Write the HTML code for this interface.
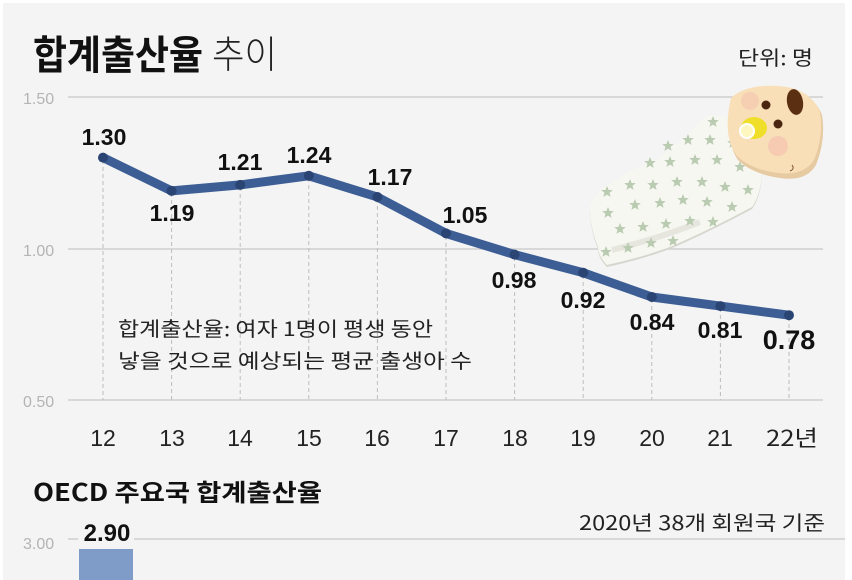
<!DOCTYPE html>
<html><head><meta charset="utf-8">
<style>
html,body{margin:0;padding:0;background:#fff;}
svg{display:block;}
text{font-family:"Liberation Sans","Noto Sans CJK KR",sans-serif;}
.k{font-family:"Noto Sans CJK KR","Liberation Sans",sans-serif;}
</style></head>
<body>
<svg width="852" height="580" viewBox="0 0 852 580" xmlns="http://www.w3.org/2000/svg">
<defs>
<path id="st" d="M0,-6 L1.6,-2 L5.8,-1.9 L2.5,0.8 L3.6,4.9 L0,2.6 L-3.6,4.9 L-2.5,0.8 L-5.8,-1.9 L-1.6,-2 Z" fill="#b9cbb0"/>
</defs>
<rect x="3" y="3" width="842" height="577" fill="#f4f4f4"/>

<!-- title -->
<text class="k" x="33" y="69" font-size="40" font-weight="700" fill="#111" textLength="170" lengthAdjust="spacingAndGlyphs">합계출산율</text>
<text class="k" x="212" y="68" font-size="38" font-weight="300" fill="#222" textLength="65" lengthAdjust="spacingAndGlyphs">추이</text>
<text class="k" x="738" y="65" font-size="20" fill="#222" textLength="75" lengthAdjust="spacingAndGlyphs">단위: 명</text>

<!-- gridlines -->
<g stroke="#cfcfcf" stroke-width="1.5">
<line x1="68" y1="97" x2="823" y2="97"/>
<line x1="68" y1="249" x2="823" y2="249"/>
<line x1="68" y1="400" x2="823" y2="400"/>
</g>
<g font-size="16" fill="#b4b4b4" font-weight="300">
<text x="23" y="104">1.50</text>
<text x="23" y="256">1.00</text>
<text x="23" y="407">0.50</text>
</g>

<!-- dashed verticals -->
<g stroke="#bdbdbd" stroke-width="1" stroke-dasharray="4,3">
<line x1="103" y1="160" x2="103" y2="400"/>
<line x1="171.6" y1="193" x2="171.6" y2="400"/>
<line x1="240.2" y1="187" x2="240.2" y2="400"/>
<line x1="308.8" y1="178" x2="308.8" y2="400"/>
<line x1="377.4" y1="199" x2="377.4" y2="400"/>
<line x1="446" y1="236" x2="446" y2="400"/>
<line x1="514.6" y1="257" x2="514.6" y2="400"/>
<line x1="583.2" y1="275" x2="583.2" y2="400"/>
<line x1="651.8" y1="299" x2="651.8" y2="400"/>
<line x1="720.4" y1="308" x2="720.4" y2="400"/>
<line x1="789" y1="317" x2="789" y2="400"/>
</g>

<!-- annotation -->
<text class="k" x="118" y="336" font-size="20" fill="#222" textLength="315" lengthAdjust="spacingAndGlyphs">합계출산율: 여자 1명이 평생 동안</text>
<text class="k" x="118" y="368" font-size="20" fill="#222" textLength="354" lengthAdjust="spacingAndGlyphs">낳을 것으로 예상되는 평균 출생아 수</text>

<!-- line -->
<polyline fill="none" stroke="#3d5e95" stroke-width="9" stroke-linejoin="round" stroke-linecap="round"
points="103,157.6 171.6,190.9 240.2,184.9 308.8,175.8 377.4,197 446,233.4 514.6,254.6 583.2,272.7 651.8,297 720.4,306.1 789,315.2"/>
<g fill="#2a4474">
<circle cx="103" cy="157.6" r="5"/><circle cx="171.6" cy="190.9" r="5"/><circle cx="240.2" cy="184.9" r="5"/>
<circle cx="308.8" cy="175.8" r="5"/><circle cx="377.4" cy="197" r="5"/><circle cx="446" cy="233.4" r="5"/>
<circle cx="514.6" cy="254.6" r="5"/><circle cx="583.2" cy="272.7" r="5"/><circle cx="651.8" cy="297" r="5"/>
<circle cx="720.4" cy="306.1" r="5"/><circle cx="789" cy="315.2" r="5"/>
</g>

<!-- baby -->
<g>
<path d="M708,117 L727,119 Q740,130 747,145 L762,169 Q762,195 752,209 L733,219 Q700,236 670,249 Q640,260 607,267 Q598,258 598,249 Q590,230 590,209 Q596,195 607,187 Q630,172 657,162 Q685,140 708,117 Z" fill="#d6d6cf"/>
<path d="M708,115 L727,117 Q740,128 747,143 L762,167 Q762,193 752,207 L733,217 Q700,234 670,247 Q640,258 607,265 Q598,256 598,247 Q590,228 590,207 Q596,193 607,185 Q630,170 657,160 Q685,138 708,115 Z" fill="#f7f7f1"/>
<path d="M612,250 Q660,238 700,222" stroke="#e6e6df" stroke-width="6" fill="none"/>
<g>
<use href="#st" x="713" y="122"/><use href="#st" x="710" y="140"/><use href="#st" x="688" y="140"/><use href="#st" x="668" y="146"/><use href="#st" x="733" y="143"/>
<use href="#st" x="650" y="163"/><use href="#st" x="670" y="162"/><use href="#st" x="695" y="160"/><use href="#st" x="717" y="160"/><use href="#st" x="740" y="167"/>
<use href="#st" x="630" y="185"/><use href="#st" x="653" y="185"/><use href="#st" x="677" y="182"/><use href="#st" x="702" y="182"/><use href="#st" x="725" y="187"/><use href="#st" x="748" y="190"/>
<use href="#st" x="607" y="192"/><use href="#st" x="635" y="205"/><use href="#st" x="660" y="203"/><use href="#st" x="683" y="200"/><use href="#st" x="707" y="202"/><use href="#st" x="732" y="207"/>
<use href="#st" x="608" y="213"/><use href="#st" x="620" y="229"/><use href="#st" x="643" y="227"/><use href="#st" x="666" y="224"/><use href="#st" x="690" y="221"/><use href="#st" x="713" y="222"/>
<use href="#st" x="628" y="248"/><use href="#st" x="651" y="243"/><use href="#st" x="673" y="241"/><use href="#st" x="606" y="252"/>
</g>
<!-- head -->
<path d="M733,100 Q748,86 780,88 Q812,90 822,115 Q826,140 816,165 Q806,182 780,178 Q752,174 738,160 Q724,140 733,100 Z" fill="#e6caa2"/>
<path d="M731,98 Q746,84 778,86 Q810,88 820,112 Q824,136 814,160 Q804,176 778,173 Q752,170 737,156 Q722,136 731,98 Z" fill="#f8dfb8"/>
<circle cx="750" cy="101" r="9" fill="#f5cbb0" opacity="0.8"/>
<circle cx="778" cy="146" r="10" fill="#f5c6b0" opacity="0.8"/>
<ellipse cx="795" cy="102" rx="8" ry="13" transform="rotate(-10 795 102)" fill="#5b2f12"/>
<circle cx="766" cy="105" r="4.5" fill="#4a2510"/>
<circle cx="778" cy="124" r="4.5" fill="#4a2510"/>
<ellipse cx="754" cy="128" rx="13" ry="11" fill="#f0df2a"/>
<circle cx="747" cy="131" r="7" fill="#fff7c0" stroke="#ffffff" stroke-width="2"/>
<path d="M792,165 q3,4 -2,6" stroke="#7a5030" stroke-width="1" fill="none"/>
</g>

<!-- value labels -->
<g font-size="23" font-weight="700" fill="#111" text-anchor="middle">
<text x="104" y="145">1.30</text>
<text x="172" y="221">1.19</text>
<text x="240" y="170">1.21</text>
<text x="309" y="163">1.24</text>
<text x="390" y="185">1.17</text>
<text x="465" y="223">1.05</text>
<text x="514" y="288">0.98</text>
<text x="583" y="308">0.92</text>
<text x="652" y="330">0.84</text>
<text x="720" y="338">0.81</text>
<text x="789" y="349" font-size="27">0.78</text>
</g>

<!-- x labels -->
<g font-size="23" fill="#222" text-anchor="middle">
<text x="103" y="446">12</text><text x="172" y="446">13</text><text x="240" y="446">14</text>
<text x="309" y="446">15</text><text x="377" y="446">16</text><text x="446" y="446">17</text>
<text x="515" y="446">18</text><text x="583" y="446">19</text><text x="652" y="446">20</text>
<text x="720" y="446">21</text>
</g>
<text class="k" x="766" y="446" font-size="22" fill="#222" textLength="52" lengthAdjust="spacingAndGlyphs">22년</text>

<!-- bottom section -->
<text class="k" x="33" y="501" font-size="24" font-weight="700" fill="#111" textLength="289" lengthAdjust="spacingAndGlyphs">OECD 주요국 합계출산율</text>
<text class="k" x="825" y="530" font-size="20" fill="#222" text-anchor="end" textLength="246" lengthAdjust="spacingAndGlyphs">2020년 38개 회원국 기준</text>
<line x1="68" y1="539" x2="845" y2="539" stroke="#cfcfcf" stroke-width="1.5"/>
<rect x="78" y="528" width="56" height="14" fill="#f4f4f4"/>
<text x="23" y="549" font-size="16" fill="#b4b4b4" font-weight="300">3.00</text>
<text x="107" y="541" font-size="24" font-weight="700" fill="#111" text-anchor="middle">2.90</text>
<rect x="79" y="549" width="54" height="31" fill="#7e9cc7"/>
</svg>
</body></html>
